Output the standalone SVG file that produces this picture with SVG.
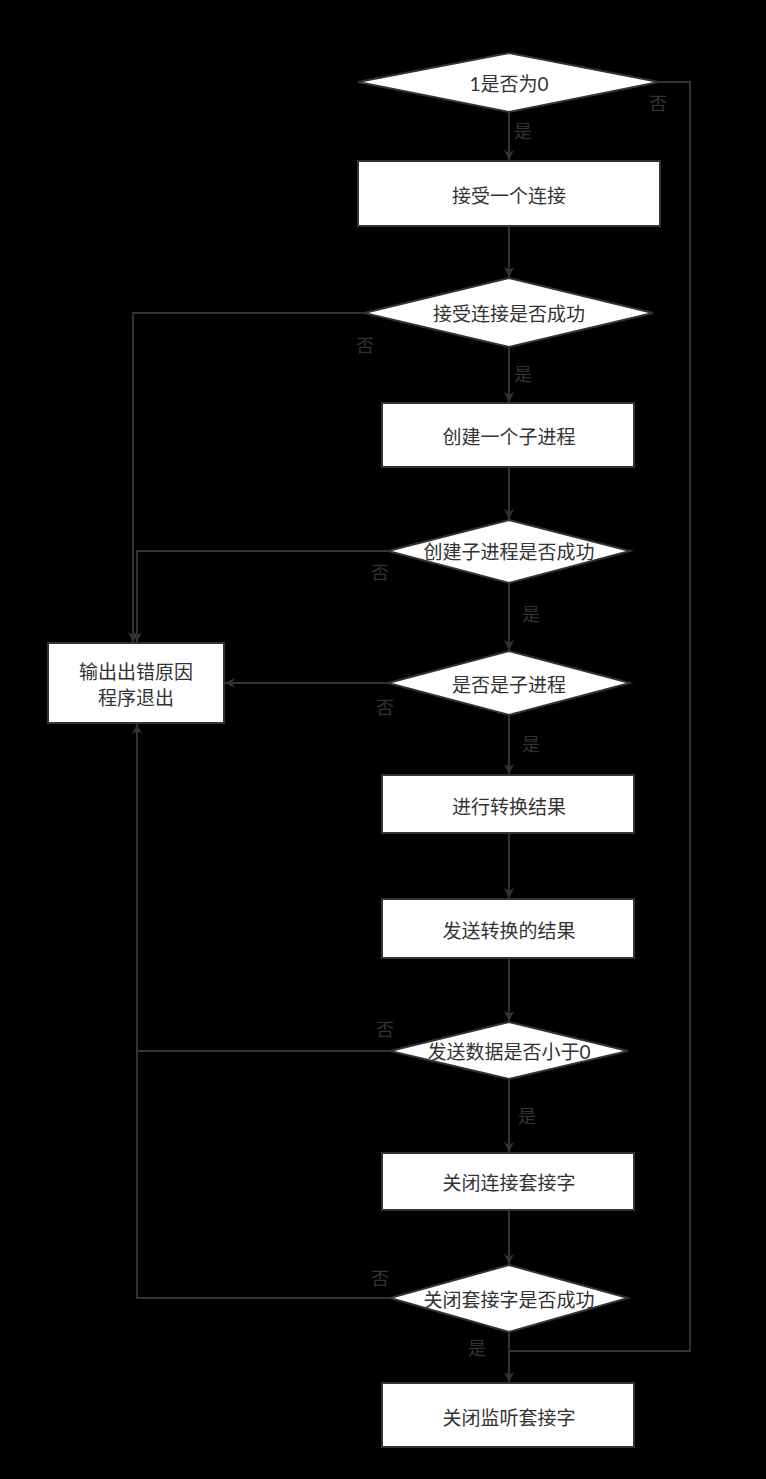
<svg xmlns="http://www.w3.org/2000/svg" width="766" height="1479" viewBox="0 0 766 1479">
<defs>
<marker id="arr" viewBox="0 0 10 10" refX="10" refY="5" markerWidth="10" markerHeight="10" markerUnits="userSpaceOnUse" orient="auto">
<path d="M0,0 L10,5 L0,10 L3,5 Z" fill="#333"/>
</marker>
<style>
.n{fill:#fff;stroke:#333;stroke-width:2}
.t{font-family:Lato,"Noto Sans CJK SC",sans-serif;font-size:19px;fill:#333;text-anchor:middle;dominant-baseline:central}
.l{font-family:Lato,"Noto Sans CJK SC",sans-serif;font-size:18px;fill:#333;text-anchor:middle;dominant-baseline:central}
.c{fill:none;stroke:#333;stroke-width:2}
</style>
</defs>
<rect x="0" y="0" width="766" height="1479" fill="#000"/>
<g id="connectors">
<path class="c" d="M509,112 V160" marker-end="url(#arr)"/>
<path class="c" d="M509,226 V277" marker-end="url(#arr)"/>
<path class="c" d="M509,347 V402" marker-end="url(#arr)"/>
<path class="c" d="M509,467 V519" marker-end="url(#arr)"/>
<path class="c" d="M509,583 V650" marker-end="url(#arr)"/>
<path class="c" d="M509,715 V774" marker-end="url(#arr)"/>
<path class="c" d="M509,833 V898" marker-end="url(#arr)"/>
<path class="c" d="M509,958 V1021" marker-end="url(#arr)"/>
<path class="c" d="M509,1079 V1152" marker-end="url(#arr)"/>
<path class="c" d="M509,1210 V1264" marker-end="url(#arr)"/>
<path class="c" d="M509,1332 V1382" marker-end="url(#arr)"/>
<path class="c" d="M659,82 H690 V1351 H509"/>
<path class="c" d="M364,313 H133 V642" marker-end="url(#arr)"/>
<path class="c" d="M388,551 H137 V642" marker-end="url(#arr)"/>
<path class="c" d="M388,683 H225" marker-end="url(#arr)"/>
<path class="c" d="M390,1051 H137"/>
<path class="c" d="M390,1298 H137 V724" marker-end="url(#arr)"/>
<text class="l" x="658" y="103">否</text>
<text class="l" x="523" y="131">是</text>
<text class="l" x="365" y="345">否</text>
<text class="l" x="523" y="374">是</text>
<text class="l" x="380" y="572">否</text>
<text class="l" x="531" y="614">是</text>
<text class="l" x="385" y="707">否</text>
<text class="l" x="531" y="744">是</text>
<text class="l" x="385" y="1029">否</text>
<text class="l" x="527" y="1116">是</text>
<text class="l" x="380" y="1278">否</text>
<text class="l" x="477" y="1348">是</text>
</g>
<g id="d1"><polygon class="n" points="509,53 659,82 509,112 358,82"/><text class="t" x="509" y="83">1是否为0</text></g>
<g id="b1"><rect class="n" x="358" y="161" width="302" height="65"/><text class="t" x="509" y="195">接受一个连接</text></g>
<g id="d2"><polygon class="n" points="509,278 653,313 509,347 364,313"/><text class="t" x="509" y="313">接受连接是否成功</text></g>
<g id="b2"><rect class="n" x="382" y="403" width="252" height="64"/><text class="t" x="509" y="436">创建一个子进程</text></g>
<g id="d3"><polygon class="n" points="509,520 630,551 509,583 388,551"/><text class="t" x="509" y="551">创建子进程是否成功</text></g>
<g id="d4"><polygon class="n" points="509,651 630,683 509,715 388,683"/><text class="t" x="509" y="684">是否是子进程</text></g>
<g id="err"><rect class="n" x="48" y="643" width="176" height="80"/><text class="t" x="136" y="671">输出出错原因</text><text class="t" x="136" y="697">程序退出</text></g>
<g id="b3"><rect class="n" x="382" y="775" width="252" height="58"/><text class="t" x="509" y="806">进行转换结果</text></g>
<g id="b4"><rect class="n" x="382" y="899" width="252" height="59"/><text class="t" x="509" y="930">发送转换的结果</text></g>
<g id="d5"><polygon class="n" points="509,1022 628,1051 509,1079 390,1051"/><text class="t" x="509" y="1051">发送数据是否小于0</text></g>
<g id="b5"><rect class="n" x="382" y="1153" width="252" height="57"/><text class="t" x="509" y="1182">关闭连接套接字</text></g>
<g id="d6"><polygon class="n" points="509,1265 628,1298 509,1332 390,1298"/><text class="t" x="509" y="1299">关闭套接字是否成功</text></g>
<g id="b6"><rect class="n" x="382" y="1383" width="252" height="64"/><text class="t" x="509" y="1417">关闭监听套接字</text></g>
</svg>
